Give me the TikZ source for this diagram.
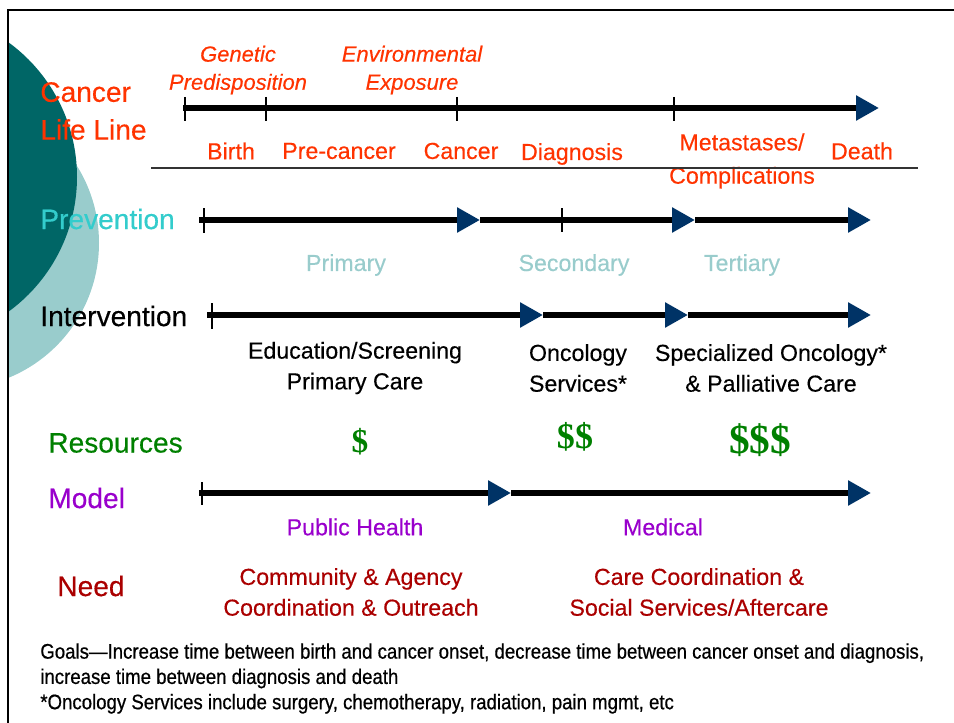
\documentclass[tikz,border=0pt]{standalone}
\usepackage{xcolor}
\usepackage{fontspec}
\setmainfont{Liberation Sans}[FakeBold=0.35]
\newfontfamily\notefont{Liberation Sans}[FakeStretch=0.883, FakeBold=0.6]
\newfontfamily\dollarfont{Liberation Serif}
\usetikzlibrary{arrows.meta}
\definecolor{lifered}{HTML}{FF3300}
\definecolor{prevcyan}{HTML}{33CCCC}
\definecolor{paleteal}{HTML}{99CCCC}
\definecolor{darkteal}{HTML}{006666}
\definecolor{resgreen}{HTML}{008000}
\definecolor{modelpurple}{HTML}{9900CC}
\definecolor{needred}{HTML}{AA0000}
\definecolor{tipblue}{HTML}{003366}

\tikzset{
  rowtitle/.style={anchor=west, inner sep=0pt, align=left, font=\fontsize{16}{21.5}\selectfont},
  lbl/.style={inner sep=0pt, align=center, font=\fontsize{13.2}{17.5}\selectfont},
  itlbl/.style={inner sep=0pt, align=center, font=\fontsize{12.5}{16}\selectfont\itshape, text=lifered},
  timeline/.style={line width=3.2pt, -{Triangle[length=4.6mm,width=4.8mm,color=tipblue]}},
  tickmark/.style={line width=1pt},
}

\begin{document}
\begin{tikzpicture}[x=0.02cm, y=-0.02cm]%
\useasboundingbox (0,0) rectangle (954,723);%
% background circles
\begin{scope}%
\clip (8,10) rectangle (954,723);%
\fill[paleteal] (-46.6,243) circle (145.6);%
\fill[darkteal] (-89.6,177) circle (166.6);%
\end{scope}%
\draw[line width=1.2pt] (8,723) -- (8,10) -- (954,10);%
% row titles
\node[rowtitle, text=lifered] (tlife) at (40,111) {Cancer\\Life Line};%
\node[rowtitle, text=prevcyan] (tprev) at (40,219) {Prevention};%
\node[rowtitle, text=black] (tint) at (40,316) {Intervention};%
\node[rowtitle, text=resgreen] (tres) at (48,443) {Resources};%
\node[rowtitle, text=modelpurple] (tmod) at (48,498) {Model};%
\node[rowtitle, text=needred] (tneed) at (57,586) {Need};%
% cancer life line
\coordinate (l0) at (183,108);%
\coordinate (l1) at (879,108);%
\draw[timeline] (l0) -- (l1);%
\foreach \x [count=\i] in {185,266,457,674}{%
  \draw[tickmark] (\x,97) -- (\x,121);%
}%
\node[itlbl] (genetic) at (238,70) {Genetic\\Predisposition};%
\node[itlbl] (environ) at (412,70) {Environmental\\Exposure};%
\node[lbl, text=lifered] (birth) at (231,151) {Birth};%
\node[lbl, text=lifered] (precancer) at (339,151) {Pre-cancer};%
\node[lbl, text=lifered] (cancer) at (461,151) {Cancer};%
\node[lbl, text=lifered] (diagnosis) at (572,154) {Diagnosis};%
\node[lbl, text=lifered] (metastases) at (742,161) {Metastases/\\[1.5pt]Complications};%
\node[lbl, text=lifered] (death) at (862,151) {Death};%
\draw[line width=0.8pt, black!80] (151,168) -- (918,168);%
% prevention
\coordinate (p0) at (199,220);%
\coordinate (p1) at (480,220);%
\coordinate (p2) at (695,220);%
\coordinate (p3) at (871,220);%
\draw[timeline] (p2) -- (p3);%
\draw[timeline] (p1) -- (p2);%
\draw[timeline] (p0) -- (p1);%
\draw[tickmark] (204,208) -- (204,233);%
\draw[line width=0.7pt] (562,208) -- (562,232);%
\node[lbl, text=paleteal] (primary) at (346,265) {Primary};%
\node[lbl, text=paleteal] (secondary) at (574,265) {Secondary};%
\node[lbl, text=paleteal] (tertiary) at (742,265) {Tertiary};%
% intervention
\coordinate (i0) at (207,315);%
\coordinate (i1) at (543,315);%
\coordinate (i2) at (688,315);%
\coordinate (i3) at (871,315);%
\draw[timeline] (i2) -- (i3);%
\draw[timeline] (i1) -- (i2);%
\draw[timeline] (i0) -- (i1);%
\draw[tickmark] (212,303) -- (212,329);%
\node[lbl] (edu) at (355,368) {Education/Screening\\Primary Care};%
\node[lbl] (onco) at (578,368) {Oncology\\Services*};%
\node[lbl] (special) at (771,368) {Specialized Oncology*\\\& Palliative Care};%
% resources
\node[inner sep=0pt, text=resgreen, font=\fontsize{19}{19}\dollarfont\bfseries] (cost1) at (360,442) {\$};%
\node[inner sep=0pt, text=resgreen, font=\fontsize{20.5}{20}\dollarfont\bfseries] (cost2) at (575,437) {\$\$};%
\node[inner sep=0pt, text=resgreen, font=\fontsize{23.5}{24}\dollarfont\bfseries] (cost3) at (760,440) {\$\$\$};%
% model
\coordinate (m0) at (199,493);%
\coordinate (m1) at (511,493);%
\coordinate (m2) at (871,493);%
\draw[timeline] (m1) -- (m2);%
\draw[timeline] (m0) -- (m1);%
\draw[tickmark] (202,482) -- (202,505);%
\node[lbl, text=modelpurple] (public) at (355,527) {Public Health};%
\node[lbl, text=modelpurple] (medical) at (663,527) {Medical};%
% need
\node[lbl, text=needred] (community) at (351,592) {Community \& Agency\\Coordination \& Outreach};%
\node[lbl, text=needred] (carecoord) at (699,592) {Care Coordination \&\\Social Services/Aftercare};%
% notes
\node[anchor=north west, inner sep=0pt, align=left, font=\fontsize{12}{14.4}\notefont] (goals) at (40,643) {Goals—Increase time between birth and cancer onset, decrease time between cancer onset and diagnosis,\\increase time between diagnosis and death\\*Oncology Services include surgery, chemotherapy, radiation, pain mgmt, etc};%
\end{tikzpicture}
\end{document}
